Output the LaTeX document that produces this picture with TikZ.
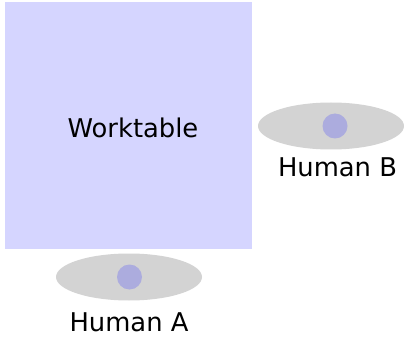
\documentclass[tikz,border=0pt]{standalone}
\usepackage{fontspec}
\setmainfont{DejaVu Sans}
\usetikzlibrary{shapes.geometric}
\definecolor{tablecol}{RGB}{213,213,255}
\definecolor{bodycol}{RGB}{211,211,211}
\definecolor{headcol}{RGB}{172,172,222}
\begin{document}
\begin{tikzpicture}[x=1pt,y=-1pt,
  tablebox/.style={fill=tablecol,draw=none,minimum width=247pt,minimum height=247pt,inner sep=0pt},
  humanbody/.style={ellipse,fill=bodycol,draw=none,minimum width=146pt,minimum height=47pt,inner sep=0pt},
  humanhead/.style={circle,fill=headcol,draw=none,minimum size=25pt,inner sep=0pt},
  lbl/.style={font=\fontsize{25.8}{30}\selectfont,text=black,inner sep=0pt,anchor=base}]
\useasboundingbox (0,0) rectangle (404,339);
\node[tablebox] (table) at (128.5,125.5) {};
\node[lbl] (tlabel) at (133,138) {Worktable};
\node[humanbody] (bodyB) at (331,126) {};
\node[humanhead] (headB) at (335,126) {};
\node[lbl] (labelB) at (337.5,177) {Human B};
\node[humanbody] (bodyA) at (129,277) {};
\node[humanhead] (headA) at (129.5,277) {};
\node[lbl] (labelA) at (129,331) {Human A};
\end{tikzpicture}
\end{document}
